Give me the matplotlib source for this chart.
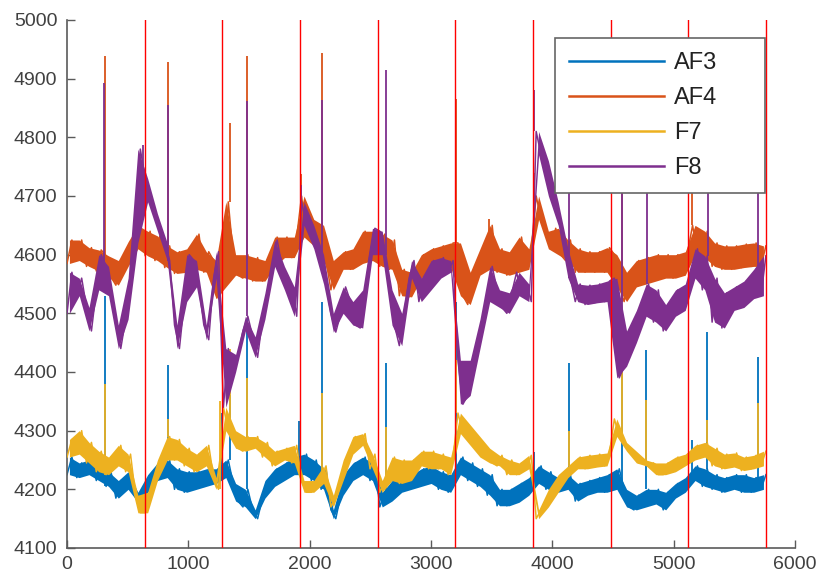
import numpy as np
import matplotlib
matplotlib.use("Agg")
import matplotlib.pyplot as plt
from matplotlib.lines import Line2D

# ---------------- data ----------------
# Each series: values sampled every ~40 samples over 0..5760 (two per 80-sample bin)
af3 = [4225, 4255, 4220, 4245, 4225, 4250, 4215, 4245, 4205, 4230, 4185, 4215, 4200, 4230, 4195, 4178,
       4195, 4225, 4215, 4245, 4220, 4250, 4200, 4235, 4195, 4230, 4200, 4230, 4205, 4235, 4210, 4235,
       4220, 4250, 4210, 4180, 4170, 4200, 4165, 4150, 4185, 4215, 4205, 4235, 4215, 4245, 4225, 4255,
       4225, 4260, 4215, 4250, 4200, 4235, 4165, 4150, 4190, 4225, 4215, 4245, 4225, 4255, 4215, 4245,
       4170, 4195, 4180, 4215, 4195, 4220, 4200, 4225, 4205, 4235, 4210, 4240, 4200, 4230, 4195, 4225,
       4225, 4255, 4215, 4245, 4205, 4235, 4190, 4225, 4172, 4200, 4172, 4200, 4178, 4210, 4190, 4220,
       4210, 4240, 4200, 4230, 4195, 4220, 4200, 4225, 4180, 4210, 4190, 4215, 4195, 4220, 4195, 4225,
       4200, 4235, 4200, 4170, 4165, 4190, 4170, 4200, 4175, 4200, 4165, 4195, 4185, 4210, 4195, 4220,
       4215, 4240, 4205, 4235, 4200, 4225, 4195, 4220, 4200, 4225, 4195, 4225, 4195, 4220, 4200, 4225]
af4 = [4585, 4625, 4590, 4625, 4580, 4612, 4572, 4608, 4598, 4562, 4548, 4590, 4580, 4622, 4610, 4650,
       4598, 4640, 4590, 4632, 4578, 4615, 4568, 4605, 4570, 4610, 4575, 4635, 4570, 4605, 4590, 4525,
       4545, 4690, 4600, 4565, 4560, 4600, 4555, 4595, 4555, 4590, 4580, 4630, 4595, 4630, 4595, 4630,
       4700, 4630, 4660, 4615, 4650, 4590, 4540, 4590, 4575, 4605, 4575, 4610, 4585, 4640, 4590, 4640,
       4580, 4635, 4575, 4625, 4530, 4575, 4528, 4570, 4560, 4600, 4575, 4610, 4578, 4615, 4578, 4620,
       4620, 4530, 4515, 4570, 4565, 4610, 4575, 4650, 4570, 4610, 4565, 4605, 4570, 4630, 4575, 4610,
       4700, 4660, 4640, 4610, 4645, 4600, 4590, 4625, 4570, 4610, 4570, 4605, 4570, 4605, 4570, 4612,
       4600, 4545, 4520, 4570, 4545, 4590, 4550, 4595, 4555, 4600, 4560, 4600, 4560, 4600, 4565, 4605,
       4650, 4600, 4595, 4640, 4580, 4620, 4575, 4615, 4575, 4615, 4578, 4618, 4580, 4620, 4580, 4615]
f7 = [4255, 4285, 4260, 4300, 4245, 4280, 4230, 4265, 4225, 4255, 4240, 4275, 4230, 4260, 4190, 4160,
      4160, 4195, 4215, 4250, 4250, 4290, 4250, 4285, 4240, 4270, 4230, 4260, 4240, 4275, 4220, 4200,
      4340, 4300, 4300, 4270, 4265, 4290, 4270, 4290, 4255, 4280, 4240, 4265, 4250, 4270, 4245, 4275,
      4215, 4195, 4195, 4215, 4210, 4240, 4170, 4190, 4215, 4250, 4260, 4290, 4275, 4295, 4235, 4260,
      4195, 4215, 4215, 4255, 4210, 4250, 4215, 4250, 4240, 4265, 4235, 4265, 4235, 4260, 4225, 4255,
      4330, 4295, 4310, 4275, 4290, 4255, 4270, 4245, 4240, 4258, 4225, 4250, 4225, 4245, 4235, 4258,
      4150, 4165, 4170, 4200, 4195, 4225, 4220, 4240, 4235, 4255, 4235, 4258, 4238, 4260, 4240, 4262,
      4320, 4290, 4280, 4265, 4265, 4245, 4250, 4240, 4245, 4225, 4225, 4245, 4230, 4255, 4240, 4260,
      4250, 4275, 4255, 4280, 4240, 4270, 4235, 4260, 4238, 4262, 4232, 4255, 4235, 4258, 4240, 4265]
f8 = [4500, 4570, 4530, 4560, 4510, 4470, 4540, 4600, 4580, 4530, 4480, 4440, 4490, 4560, 4620, 4780,
      4730, 4690, 4670, 4640, 4620, 4590, 4480, 4440, 4520, 4600, 4590, 4545, 4480, 4455, 4560, 4605,
      4340, 4440, 4400, 4430, 4470, 4495, 4460, 4425, 4490, 4535, 4580, 4625, 4580, 4540, 4545, 4495,
      4690, 4650, 4650, 4610, 4600, 4550, 4500, 4468, 4500, 4545, 4520, 4480, 4475, 4540, 4600, 4645,
      4640, 4600, 4540, 4480, 4445, 4500, 4560, 4590, 4520, 4560, 4540, 4590, 4560, 4595, 4570, 4590,
      4420, 4345, 4360, 4420, 4440, 4490, 4520, 4580, 4540, 4510, 4500, 4535, 4570, 4530, 4550, 4520,
      4810, 4770, 4760, 4700, 4690, 4650, 4610, 4560, 4520, 4550, 4515, 4548, 4518, 4550, 4520, 4555,
      4560, 4390, 4410, 4470, 4450, 4505, 4495, 4550, 4485, 4540, 4470, 4515, 4495, 4540, 4505, 4550,
      4560, 4610, 4540, 4598, 4485, 4560, 4475, 4535, 4505, 4545, 4510, 4555, 4525, 4575, 4530, 4598]

# single-sample spikes (sample index, peak value)
af3_spike_x = [310, 836, 1275, 1340, 1481, 1915, 2100, 2630, 3205, 3850, 4140, 4575, 4775, 5150, 5275, 5695]
af3_spike_y = [4530, 4412, 4330, 4360, 4490, 4316, 4520, 4415, 4520, 4264, 4416, 4472, 4437, 4284, 4468, 4426]
af4_spike_x = [310, 836, 1345, 1481, 1925, 2098, 3205, 3480, 3850, 4575, 5150]
af4_spike_y = [4938, 4928, 4825, 4938, 4738, 4944, 4865, 4660, 4740, 4780, 4720]
f7_spike_x = [310, 836, 1265, 1340, 1481, 2100, 2630, 3205, 4140, 4575, 4775, 5275, 5695]
f7_spike_y = [4380, 4320, 4350, 4440, 4390, 4364, 4306, 4420, 4300, 4403, 4352, 4318, 4347]
f8_spike_x = [305, 630, 836, 1481, 1925, 2100, 2630, 3850, 4140, 4575, 4780, 5285, 5695]
f8_spike_y = [4893, 4787, 4855, 4862, 4719, 4864, 4915, 4881, 4780, 4800, 4790, 4790, 4790]

channel_names = ["AF3", "AF4", "F7", "F8"]
event_markers = [640, 1280, 1920, 2560, 3200, 3840, 4480, 5120, 5760]
n_samples_end = 5760

colors = ["#0072BD", "#D95319", "#EDB120", "#7E2F8E"]

# ---------------- figure ----------------
plt.rcParams['font.family'] = ['Liberation Sans', 'DejaVu Sans']

fig = plt.figure(figsize=(8.19, 5.79), dpi=100)
ax = fig.add_axes([67 / 819, 1 - 548 / 579, 728 / 819, 528 / 579])

series = [(af3, af3_spike_x, af3_spike_y), (af4, af4_spike_x, af4_spike_y),
          (f7, f7_spike_x, f7_spike_y), (f8, f8_spike_x, f8_spike_y)]

for i, ((vals, sx, sy), name, c) in enumerate(zip(series, channel_names, colors)):
    v = np.asarray(vals, dtype=float)
    x = np.linspace(0, n_samples_end, len(v))
    z = 2 + i
    # dense noise band: envelope of each pair of readings
    pairs = v.reshape(-1, 2)
    xc = x.reshape(-1, 2).mean(axis=1)
    ax.fill_between(xc, pairs.min(axis=1), pairs.max(axis=1), color=c, lw=0, zorder=z)
    ax.plot(x, v, color=c, lw=1.1, zorder=z)
    idx = [int(np.abs(x - s).argmin()) for s in sx]
    ax.vlines(sx, v[idx], sy, color=c, lw=1.3, zorder=z)

for m in event_markers:
    ax.axvline(m, color="#FF0000", lw=1.0, zorder=10)

ax.set_xlim(0, 6000)
ax.set_ylim(4100, 5000)
ax.set_xticks(np.arange(0, 6001, 1000))
ax.set_yticks(np.arange(4100, 5001, 100))
for s in ["top", "right"]:
    ax.spines[s].set_visible(False)
for s in ["left", "bottom"]:
    ax.spines[s].set_color("#5a5a5a")
    ax.spines[s].set_linewidth(1.2)
ax.tick_params(direction="in", length=5.5, width=1.0, color="#5a5a5a",
               labelsize=14, labelcolor="#404040")
ax.tick_params(axis="y", pad=7)
ax.tick_params(axis="x", pad=6)

handles = [Line2D([], [], color=c, lw=1.8) for c in colors]
leg = ax.legend(handles, channel_names, loc="upper right",
                bbox_to_anchor=((555 - 67) / 728, 0.5, 210 / 728, 1 - (38 - 20) / 528 - 0.5),
                mode="expand", borderaxespad=0, fontsize=17, handlelength=4.0,
                handletextpad=0.45, labelspacing=0.55, borderpad=0.6,
                frameon=True, fancybox=False, edgecolor="#666666", framealpha=1)
leg.get_frame().set_linewidth(1.2)
leg.set_zorder(20)
for t in leg.get_texts():
    t.set_color("#222222")

fig.savefig("out.png", dpi=100)
